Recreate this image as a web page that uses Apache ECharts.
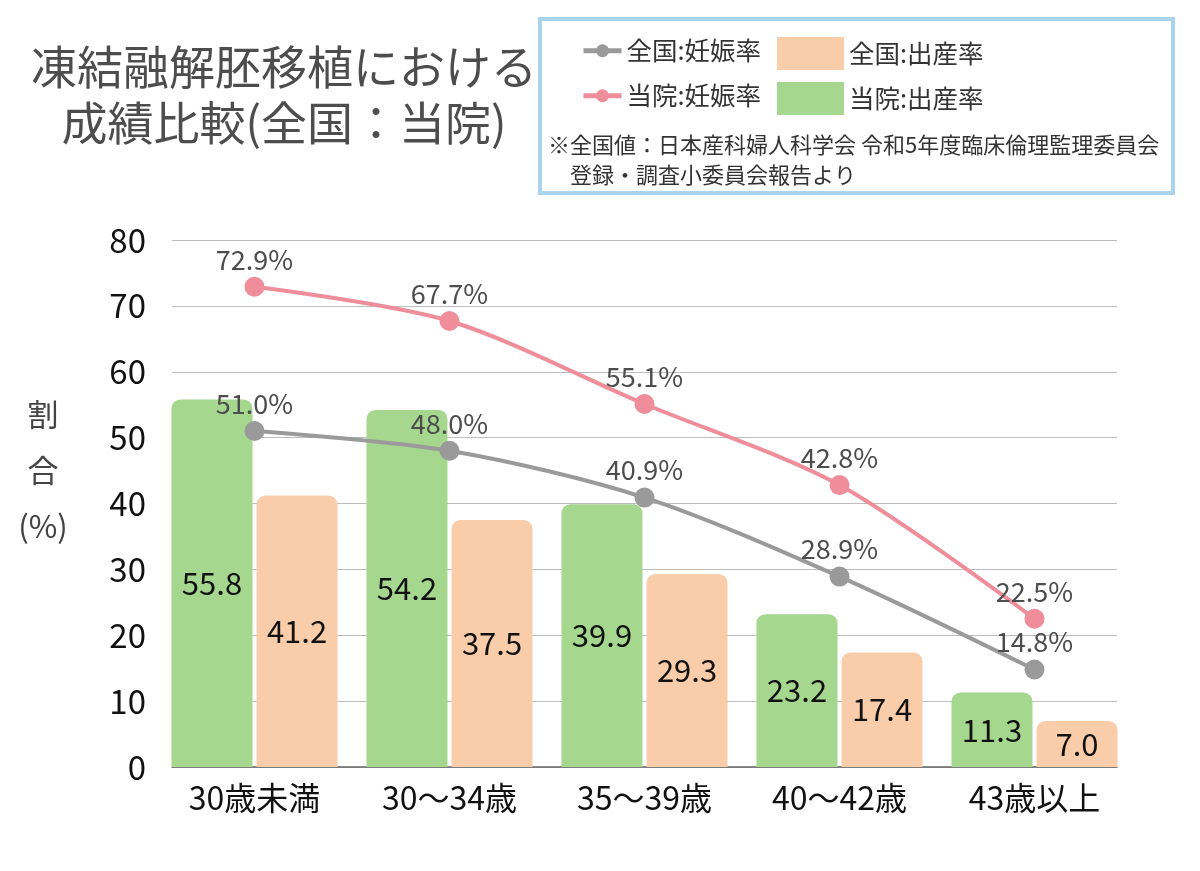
<!DOCTYPE html>
<html>
<head>
<meta charset="utf-8">
<script src="https://cdn.jsdelivr.net/npm/echarts@6/dist/echarts.min.js"></script>
<style>
  html, body { margin: 0; padding: 0; background: #fff; }
  #chart { width: 1200px; height: 871px; }
</style>
</head>
<body>
<div id="chart"></div>
<script>
const categories = ['30歳未満', '30～34歳', '35～39歳', '40～42歳', '43歳以上']
const hospitalBirth = [55.8, 54.2, 39.9, 23.2, 11.3]
const nationalBirth = [41.2, 37.5, 29.3, 17.4, 7.0]
const nationalPregnancy = [51.0, 48.0, 40.9, 28.9, 14.8]
const hospitalPregnancy = [72.9, 67.7, 55.1, 42.8, 22.5]

const font = '"Noto Sans CJK JP", "Noto Sans", sans-serif'

const chart = echarts.init(document.getElementById('chart'))

const legendBase = {
  padding: 0,
  textStyle: { fontSize: 25.5, color: '#333', fontFamily: font }
}
const lineLegend = { ...legendBase, itemWidth: 38, itemHeight: 16, lineStyle: { width: 5 } }
const barLegend = { ...legendBase, itemWidth: 67, itemHeight: 33, itemStyle: { borderRadius: 0 } }

const option = {
  animation: false,
  textStyle: { fontFamily: font },
  title: {
    text: '凍結融解胚移植における\n成績比較(全国：当院)',
    left: 279,
    top: 34,
    textAlign: 'center',
    textStyle: {
      fontSize: 46,
      fontWeight: 'normal',
      color: '#4d4d4d',
      lineHeight: 56,
      fontFamily: font
    }
  },
  legend: [
    { ...lineLegend, data: ['全国:妊娠率'], left: 581, top: 38 },
    { ...barLegend, data: [{ name: '全国:出産率', icon: 'rect' }], left: 777, top: 37 },
    { ...lineLegend, data: ['当院:妊娠率'], left: 581, top: 83 },
    { ...barLegend, data: [{ name: '当院:出産率', icon: 'rect' }], left: 777, top: 82 }
  ],
  graphic: [
    {
      type: 'rect',
      z: -1,
      shape: { x: 540, y: 19, width: 633, height: 174 },
      style: { fill: '#fff', stroke: '#a8d4ec', lineWidth: 4 }
    },
    {
      type: 'text',
      style: {
        x: 548,
        y: 130,
        text: '※全国値：日本産科婦人科学会 令和5年度臨床倫理監理委員会\n　登録・調査小委員会報告より',
        font: '22px ' + font,
        lineHeight: 30,
        fill: '#333'
      }
    },
    {
      type: 'text',
      style: {
        x: 43,
        y: 386,
        text: '割\n合\n(%)',
        font: '31px ' + font,
        lineHeight: 56,
        textAlign: 'center',
        fill: '#444'
      }
    }
  ],
  grid: [
    { left: 157, right: 68, top: 240, bottom: 104 },
    { left: 172, right: 83, top: 240, bottom: 104 }
  ],
  xAxis: [
    {
      type: 'category',
      gridIndex: 0,
      data: categories,
      axisLine: { show: false },
      axisTick: { show: false },
      axisLabel: { fontSize: 32, color: '#111', margin: 15 }
    },
    {
      type: 'value',
      gridIndex: 1,
      min: 0,
      max: 1,
      axisLine: { show: true, lineStyle: { color: '#666', width: 1.5 } },
      axisTick: { show: false },
      axisLabel: { show: false },
      splitLine: { show: false }
    }
  ],
  yAxis: [
    {
      type: 'value',
      gridIndex: 0,
      min: 0,
      max: 80,
      interval: 10,
      show: false,
      splitLine: { show: false }
    },
    {
      type: 'value',
      gridIndex: 1,
      min: 0,
      max: 80,
      interval: 10,
      axisLine: { show: false },
      axisTick: { show: false },
      axisLabel: { fontSize: 33, color: '#111', margin: 26 },
      splitLine: { lineStyle: { color: '#bdbdbd', width: 1.2 } }
    }
  ],
  series: [
    {
      name: '当院:出産率',
      type: 'bar',
      data: hospitalBirth,
      barWidth: 81,
      barGap: '5%',
      itemStyle: { color: '#a5d78e', borderRadius: [9, 9, 0, 0] },
      label: {
        show: true,
        position: 'inside',
        fontSize: 31,
        color: '#111',
        formatter: (p) => p.value.toFixed(1)
      }
    },
    {
      name: '全国:出産率',
      type: 'bar',
      data: nationalBirth,
      barWidth: 81,
      barGap: '5%',
      itemStyle: { color: '#facdaa', borderRadius: [9, 9, 0, 0] },
      label: {
        show: true,
        position: 'inside',
        fontSize: 31,
        color: '#111',
        formatter: (p) => p.value.toFixed(1)
      }
    },
    {
      name: '全国:妊娠率',
      type: 'line',
      data: nationalPregnancy,
      smooth: 0.3,
      symbol: 'circle',
      symbolSize: 20,
      z: 5,
      itemStyle: { color: '#9b9a9b' },
      lineStyle: { color: '#9b9a9b', width: 4 },
      label: {
        show: true,
        position: 'top',
        distance: 4,
        fontSize: 27,
        color: '#4d4d4d',
        formatter: (p) => p.value.toFixed(1) + '%'
      }
    },
    {
      name: '当院:妊娠率',
      type: 'line',
      data: hospitalPregnancy,
      smooth: 0.3,
      symbol: 'circle',
      symbolSize: 20,
      z: 6,
      itemStyle: { color: '#ef8d9a' },
      lineStyle: { color: '#ef8d9a', width: 4 },
      label: {
        show: true,
        position: 'top',
        distance: 4,
        fontSize: 27,
        color: '#4d4d4d',
        formatter: (p) => p.value.toFixed(1) + '%'
      }
    }
  ]
}

chart.setOption(option)
</script>
</body>
</html>
